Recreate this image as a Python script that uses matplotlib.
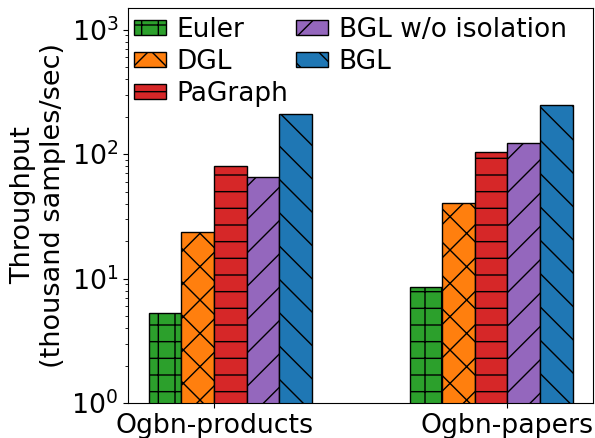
import matplotlib
matplotlib.use("Agg")
import matplotlib.pyplot as plt
import numpy as np

datasets = ["Ogbn-products", "Ogbn-papers"]
systems = ["Euler", "DGL", "PaGraph", "BGL w/o isolation", "BGL"]
throughput = {
    "Euler": [5.3, 8.5],
    "DGL": [23.5, 40.5],
    "PaGraph": [80, 105],
    "BGL w/o isolation": [65, 124],
    "BGL": [212, 250],
}
colors = ["#2ca02c", "#ff7f0e", "#d62728", "#9467bd", "#1f77b4"]
hatches = ["+", "x", "-", "/", "\\"]

group_left = [-2, 6]   # left edge of first bar in each group
tick_pos = [0, 9]
width = 1.0

fig = plt.figure(figsize=(5.95, 4.38), dpi=100)
ax = fig.add_axes([0.215, 0.080, 0.782, 0.902])

for i, s in enumerate(systems):
    xs = [g + i * width for g in group_left]
    ax.bar(xs, throughput[s], width=width, align="edge", color=colors[i],
           edgecolor="black", linewidth=1.0, hatch=hatches[i], label=s)

ax.set_yscale("log")
ax.set_ylim(1, 1500)
ax.set_xlim(-2.64, 11.63)
ax.set_xticks(tick_pos)
ax.set_xticklabels(datasets, fontsize=19.3)
ax.tick_params(axis="y", labelsize=19.3)
ax.set_ylabel("Throughput\n(thousand samples/sec)", fontsize=19.5, labelpad=4)

ax.legend(ncol=2, loc="upper left", frameon=False, fontsize=19,
          handlelength=1.2, handleheight=0.5, columnspacing=0.3,
          handletextpad=0.4, labelspacing=0.22, borderaxespad=0.2,
          borderpad=0.15, bbox_to_anchor=(-0.006, 1.0))

fig.savefig("out.png", dpi=100)
